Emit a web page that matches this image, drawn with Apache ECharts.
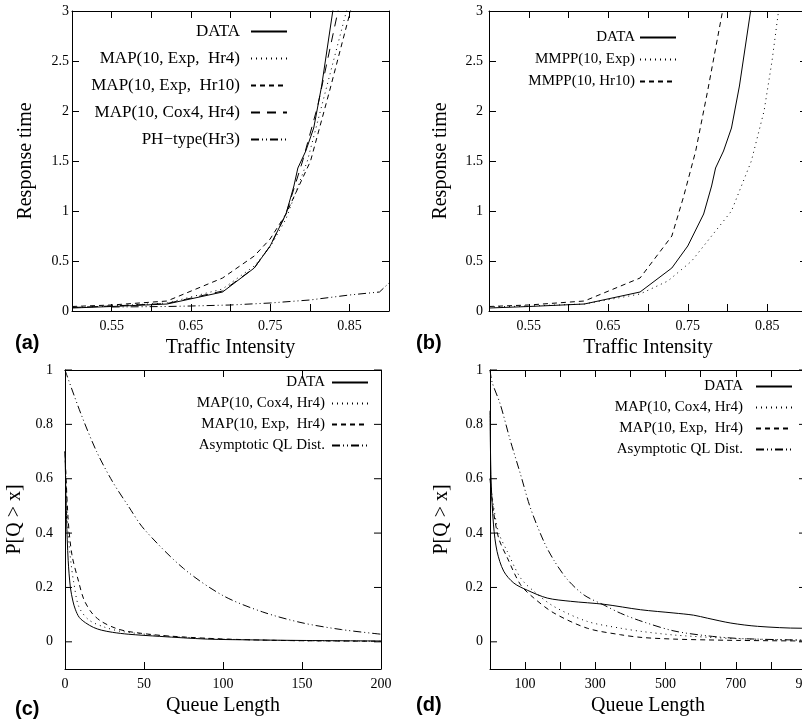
<!DOCTYPE html>
<html>
<head>
<meta charset="utf-8">
<script src="https://cdn.jsdelivr.net/npm/echarts@6/dist/echarts.min.js"></script>
<style>
body{margin:0;background:#fff;}
.p{position:absolute;width:401px;height:363px;}
</style>
</head>
<body>
<div id="pa" class="p" style="left:0;top:0"></div>
<div id="pb" class="p" style="left:401px;top:0"></div>
<div id="pc" class="p" style="left:0;top:363px"></div>
<div id="pd" class="p" style="left:401px;top:363px"></div>
<script>
// ---- (a)/(b) response time vs traffic intensity ----
var dataX = [0.5,0.55,0.62,0.69,0.73,0.75,0.77,0.78,0.785,0.795,0.805,0.815,0.83];
var dataY = [0.03,0.045,0.07,0.19,0.43,0.65,0.97,1.25,1.43,1.6,1.83,2.25,3.05];
var expHr4X = [0.5,0.55,0.62,0.69,0.73,0.75,0.77,0.797,0.82,0.848];
var expHr4Y = [0.035,0.05,0.08,0.22,0.45,0.64,0.92,1.5,2.2,3.05];
var expHr10X = [0.5,0.55,0.62,0.69,0.73,0.75,0.77,0.801,0.825,0.853];
var expHr10Y = [0.045,0.06,0.1,0.33,0.55,0.72,0.97,1.5,2.2,3.05];
var cox4X = [0.5,0.55,0.62,0.69,0.73,0.75,0.77,0.791,0.81,0.837];
var cox4Y = [0.035,0.05,0.075,0.2,0.43,0.65,0.97,1.5,2.05,3.05];
var phX = [0.55,0.62,0.65,0.7,0.75,0.8,0.85,0.888,0.9];
var phY = [0.04,0.045,0.05,0.06,0.08,0.11,0.16,0.19,0.28];
var mmppExpX = [0.5,0.55,0.62,0.69,0.725,0.755,0.78,0.805,0.83,0.846,0.856,0.865];
var mmppExpY = [0.04,0.05,0.07,0.17,0.3,0.5,0.75,1.0,1.5,2.0,2.5,3.05];
var mmppHr10X = [0.5,0.55,0.62,0.69,0.73,0.745,0.76,0.775,0.795];
var mmppHr10Y = [0.045,0.06,0.1,0.33,0.75,1.15,1.6,2.2,3.05];
var tiLabels = [0.55,0.65,0.75,0.85];

// ---- (c) queue length tail, short range ----
var cDataX = [0,1,2,3.4,5,6.5,9,13,18,23,30,40,60,90,120,150,200];
var cDataY = [0.7,0.45,0.3,0.2,0.15,0.12,0.09,0.07,0.053,0.043,0.035,0.028,0.02,0.01,0.007,0.005,0.003];
var cCoxX = [0,2,4,5.5,8.7,15,25,36,60,90,120,150,200];
var cCoxY = [0.7,0.4,0.28,0.22,0.13,0.081,0.054,0.038,0.023,0.012,0.007,0.004,0.002];
var cExpX = [0,2,4.4,8.7,12,17,23,32,40,60,90,120,150,200];
var cExpY = [0.7,0.45,0.32,0.22,0.155,0.106,0.075,0.05,0.038,0.024,0.013,0.007,0.004,0.002];
var cAsyX = [0,10,20,30,40,50,75,100,125,150,175,200];
var cAsyY = [1,0.84,0.7,0.59,0.5,0.415,0.27,0.17,0.11,0.07,0.045,0.028];

// ---- (d) queue length tail, long range ----
var dDataX = [0,3,10,20,39,68,106,163,230,325,429,524,580,619,686,762,886,900];
var dDataY = [0.85,0.6,0.43,0.333,0.26,0.216,0.19,0.161,0.149,0.138,0.118,0.106,0.098,0.087,0.069,0.057,0.05,0.05];
var dCoxX = [0,10,25,49,87,125,182,277,372,433,524,619,714,900];
var dCoxY = [0.6,0.5,0.4,0.333,0.235,0.186,0.13,0.075,0.05,0.038,0.025,0.017,0.011,0.006];
var dExpX = [0,10,25,49,87,125,182,277,372,433,524,619,714,900];
var dExpY = [0.6,0.48,0.38,0.31,0.21,0.161,0.106,0.05,0.026,0.016,0.01,0.007,0.005,0.003];
var dAsyX = [0,6,29,58,87,115,153,182,220,268,325,372,433,524,619,714,900];
var dAsyY = [1,0.955,0.875,0.74,0.616,0.493,0.37,0.3,0.23,0.172,0.135,0.105,0.075,0.04,0.022,0.012,0.006];
var dLabelsX = [100,300,500,700,900];
var pTicks = [0,0.2,0.4,0.6,0.8,1];

var serif = '"Liberation Serif", "DejaVu Serif", serif';
var DOT = [1,4], DASH = [5,4], LONG = [9,7], DDOT = [8,3,1,3,1,3];
var TICK = 7;

function pairs(xs, ys){
	return xs.map(function(x,i){ return [x, ys[i]]; });
}
function line(name, xs, ys, dash, smooth){
	return {
		name: name, type: 'line', data: pairs(xs, ys),
		symbol: 'none', smooth: smooth ? 0.3 : false, clip: true,
		lineStyle: {color: '#000', width: 1, type: dash || 'solid'},
		itemStyle: {color: '#000'}
	};
}
// P[Q>x] axis runs from -0.1, so its 0.2-step ticks are drawn here through the scales
function yTicks(values, lo, hi){
	return {
		type: 'custom', silent: true, clip: false, z: 10,
		data: values.map(function(v){ return [lo, v]; }),
		renderItem: function(params, api){
			var v = api.value(1);
			var a = api.coord([lo, v]), b = api.coord([hi, v]);
			return {type: 'group', children: [
				{type: 'line', shape: {x1: a[0], y1: a[1], x2: a[0] + TICK, y2: a[1]}, style: {stroke: '#000', lineWidth: 1}},
				{type: 'line', shape: {x1: b[0] - TICK, y1: b[1], x2: b[0], y2: b[1]}, style: {stroke: '#000', lineWidth: 1}}
			]};
		}
	};
}
function pick(list, digits){
	return function(v){
		for (var i = 0; i < list.length; i++) if (Math.abs(list[i] - v) < 1e-6) return digits ? v.toFixed(digits) : String(v);
		return '';
	};
}
function axis(pos, a, name, nameGap){
	var main = (pos === 'bottom' || pos === 'left');
	return {
		type: 'value', position: pos, min: a.min, max: a.max, interval: a.interval,
		name: main ? name : '', nameLocation: 'middle', nameGap: nameGap,
		nameTextStyle: {color: '#000', fontFamily: serif, fontSize: 20},
		axisLine: {show: true, onZero: false, lineStyle: {color: '#000', width: 1}},
		axisTick: {show: a.ticks !== false, inside: true, length: TICK, lineStyle: {color: '#000', width: 1}},
		axisLabel: {show: main, formatter: a.fmt, showMinLabel: true, showMaxLabel: true,
			color: '#000', fontFamily: serif, fontSize: 14, margin: a.margin},
		splitLine: {show: false}
	};
}
function panel(id, o){
	var chart = echarts.init(document.getElementById(id));
	var series = o.series.slice();
	if (o.extra) series.push(o.extra);
	chart.setOption({
		animation: false,
		grid: {left: o.grid[0], right: o.grid[1], top: o.grid[2], bottom: o.grid[3], outerBoundsMode: 'none',
			containLabel: false, show: false},
		legend: {
			orient: 'vertical', align: 'right', right: o.legend[0], top: o.legend[1],
			itemWidth: 36, itemHeight: 14, itemGap: o.legend[2],
			itemStyle: {opacity: 0},
			textStyle: {color: '#000', fontFamily: serif, fontSize: o.legendFont, padding: [0, o.legendPad, 0, 0]},
			data: o.series.map(function(s){ return s.name; })
		},
		xAxis: [axis('bottom', o.x, o.xName, o.xGap), axis('top', o.x)],
		yAxis: [axis('left', o.y, o.yName, o.yGap), axis('right', o.y)],
		graphic: [{type: 'text', left: 15, top: o.tag[1], style: {text: o.tag[0], fill: '#000', font: 'bold 20px "Liberation Sans", Arial, sans-serif'}}],
		series: series
	});
}

panel('pa', {
	grid: [72, 12, 11, 52], legend: [108, 18, 10], legendFont: 17, legendPad: 6,
	x: {min: 0.5, max: 0.9, interval: 0.05, fmt: pick(tiLabels, 2), margin: 8}, xName: 'Traffic Intensity', xGap: 15,
	y: {min: 0, max: 3, interval: 0.5, margin: 3}, yName: 'Response time', yGap: 36,
	tag: ['(a)', 333],
	series: [
		line('DATA', dataX, dataY),
		line('MAP(10, Exp,  Hr4)', expHr4X, expHr4Y, DOT),
		line('MAP(10, Exp,  Hr10)', expHr10X, expHr10Y, DASH),
		line('MAP(10, Cox4, Hr4)', cox4X, cox4Y, LONG),
		line('PH\u2212type(Hr3)', phX, phY, DDOT)
	]
});
panel('pb', {
	grid: [88, -5, 11, 52], legend: [120, 25, 7], legendFont: 15, legendPad: 0,
	x: {min: 0.5, max: 0.9, interval: 0.05, fmt: pick(tiLabels, 2), margin: 8}, xName: 'Traffic Intensity', xGap: 15,
	y: {min: 0, max: 3, interval: 0.5, margin: 6}, yName: 'Response time', yGap: 38,
	tag: ['(b)', 333],
	series: [
		line('DATA', dataX, dataY),
		line('MMPP(10, Exp)', mmppExpX, mmppExpY, DOT),
		line('MMPP(10, Hr10)', mmppHr10X, mmppHr10Y, DASH)
	]
});
panel('pc', {
	grid: [65, 20, 7, 57], legend: [27, 7, 6], legendFont: 15, legendPad: 2,
	x: {min: 0, max: 200, interval: 50, margin: 8}, xName: 'Queue Length', xGap: 15,
	y: {min: -0.1, max: 1, interval: 0.1, fmt: pick(pTicks, 0), margin: 12, ticks: false}, yName: 'P[Q > x]', yGap: 38,
	tag: ['(c)', 336],
	series: [
		line('DATA', cDataX, cDataY, null, true),
		line('MAP(10, Cox4, Hr4)', cCoxX, cCoxY, DOT, true),
		line('MAP(10, Exp,  Hr4)', cExpX, cExpY, DASH, true),
		line('Asymptotic QL Dist.', cAsyX, cAsyY, DDOT, true)
	],
	extra: yTicks(pTicks, 0, 200)
});
panel('pd', {
	grid: [89, -4, 7, 57], legend: [4, 11, 6], legendFont: 15, legendPad: 8,
	x: {min: 0, max: 900, interval: 100, fmt: pick(dLabelsX, 0), margin: 8}, xName: 'Queue Length', xGap: 15,
	y: {min: -0.1, max: 1, interval: 0.1, fmt: pick(pTicks, 0), margin: 7, ticks: false}, yName: 'P[Q > x]', yGap: 38,
	tag: ['(d)', 332],
	series: [
		line('DATA', dDataX, dDataY, null, true),
		line('MAP(10, Cox4, Hr4)', dCoxX, dCoxY, DOT, true),
		line('MAP(10, Exp,  Hr4)', dExpX, dExpY, DASH, true),
		line('Asymptotic QL Dist.', dAsyX, dAsyY, DDOT, true)
	],
	extra: yTicks(pTicks, 0, 900)
});
</script>
</body>
</html>
